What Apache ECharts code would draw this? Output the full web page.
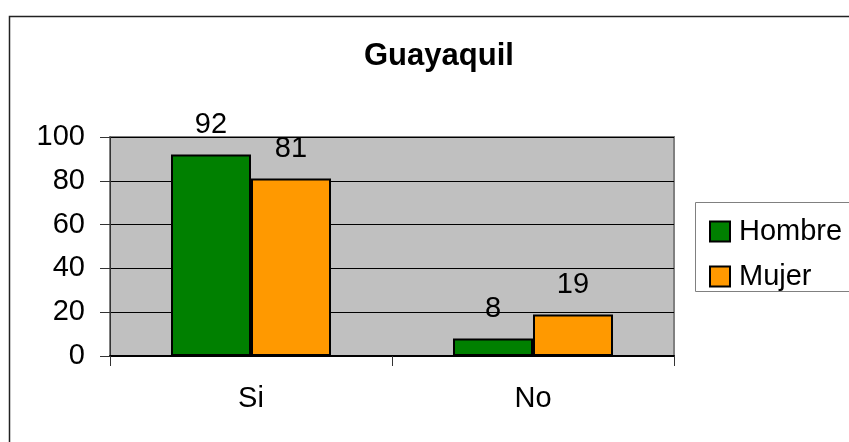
<!DOCTYPE html>
<html>
<head>
<meta charset="utf-8">
<script src="https://cdn.jsdelivr.net/npm/echarts@6/dist/echarts.min.js"></script>
<style>
  html, body { margin: 0; padding: 0; background: #fff; }
  #container { width: 849px; height: 442px; }
</style>
</head>
<body>
<div id="container"></div>
<script>
// datos de la grafica
var categorias = ['Si', 'No'];
var hombre = [92, 8];
var mujer = [81, 19];
var nombresSerie = ['Hombre', 'Mujer'];
var yMin = 0, yMax = 100, yPaso = 20;

var dom = document.getElementById('container');
var myChart = echarts.init(dom);
var fuente = '"Liberation Sans", Arial, sans-serif';

var option = {
    backgroundColor: '#ffffff',
    animation: false,
    title: {
        text: 'Guayaquil',
        left: 359,
        top: 36,
        textStyle: { fontFamily: fuente, fontSize: 31, fontWeight: 'bold', color: '#000' }
    },
    legend: {
        orient: 'vertical',
        left: 704,
        top: 212,
        itemWidth: 20,
        itemHeight: 20,
        itemGap: 16,
        icon: 'rect',
        data: nombresSerie,
        textStyle: { fontFamily: fuente, fontSize: 29, color: '#000', padding: [0, 0, 0, 4] }
    },
    grid: {
        left: 110,
        right: 175,
        top: 137,
        bottom: 86,
        show: true,
        backgroundColor: '#C0C0C0',
        borderColor: '#808080',
        borderWidth: 2
    },
    xAxis: {
        type: 'category',
        data: categorias,
        axisLine: { lineStyle: { color: '#000', width: 2 } },
        axisTick: { show: true, length: 10, lineStyle: { color: '#333' } },
        axisLabel: { margin: 28, fontFamily: fuente, fontSize: 29, color: '#000' }
    },
    yAxis: {
        type: 'value',
        min: yMin,
        max: yMax,
        interval: yPaso,
        axisLine: { show: true, lineStyle: { color: '#333', width: 1 } },
        axisTick: { show: true, length: 10, lineStyle: { color: '#333' } },
        splitLine: { show: true, lineStyle: { color: '#000', width: 1 } },
        axisLabel: { margin: 25, fontFamily: fuente, fontSize: 29, color: '#000' }
    },
    graphic: [
        {
            type: 'rect',
            shape: { x: 9.5, y: 16.5, width: 1000, height: 1000 },
            style: { fill: 'none', stroke: '#222', lineWidth: 1.5 },
            z: -10
        },
        {
            type: 'rect',
            shape: { x: 695.5, y: 202.5, width: 300, height: 89 },
            style: { fill: '#fff', stroke: '#808080', lineWidth: 1 },
            z: -5
        }
    ],
    series: [
        {
            name: nombresSerie[0],
            type: 'bar',
            data: hombre,
            barWidth: 80,
            barGap: '0%',
            itemStyle: { color: '#008000', borderColor: '#000', borderWidth: 2 },
            label: { show: true, position: 'top', distance: 15, fontFamily: fuente, fontSize: 29, color: '#000' }
        },
        {
            name: nombresSerie[1],
            type: 'bar',
            data: mujer,
            barWidth: 80,
            itemStyle: { color: '#FF9900', borderColor: '#000', borderWidth: 2 },
            label: { show: true, position: 'top', distance: 15, fontFamily: fuente, fontSize: 29, color: '#000' }
        }
    ]
};

myChart.setOption(option, true);
</script>
</body>
</html>
